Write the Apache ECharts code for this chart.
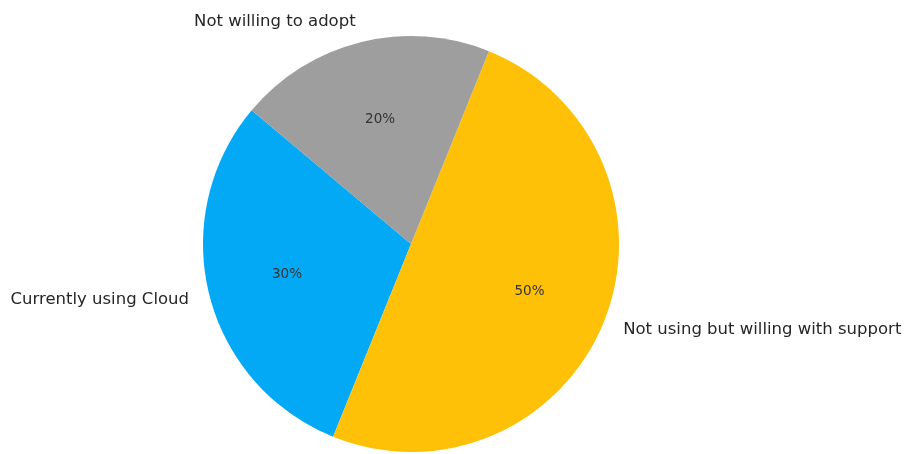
<!DOCTYPE html>
<html>
<head>
<meta charset="utf-8">
<script src="https://cdn.jsdelivr.net/npm/echarts@6/dist/echarts.min.js"></script>
<style>
html,body{margin:0;padding:0;background:#fff;}
#chart{width:904px;height:454px;}
</style>
</head>
<body>
<div id="chart"></div>
<script>
const categories = ['Currently using Cloud', 'Not using but willing with support', 'Not willing to adopt'];
const values = [30, 50, 20];
const colors = ['#03A9F4', '#FFC107', '#9E9E9E'];

const R = 208;
const center = [411, 244];
const font = 'DejaVu Sans, sans-serif';

const chart = echarts.init(document.getElementById('chart'), null, {renderer: 'canvas'});
chart.setOption({
  animation: false,
  backgroundColor: '#ffffff',
  series: [
    {
      type: 'pie',
      center: center,
      radius: [0, R],
      startAngle: 140,
      clockwise: false,
      avoidLabelOverlap: false,
      silent: true,
      data: categories.map((c, i) => ({name: c, value: values[i], itemStyle: {color: colors[i]}})),
      label: {
        show: true,
        position: 'outside',
        formatter: '{b}',
        color: '#262626',
        fontFamily: font,
        fontSize: 16.5,
        distanceToLabelLine: 0
      },
      labelLine: {show: false, length: R * 0.1, length2: 0},
      emphasis: {disabled: true}
    },
    {
      type: 'pie',
      center: center,
      radius: [0, R * 1.2],
      startAngle: 140,
      clockwise: false,
      avoidLabelOverlap: false,
      silent: true,
      z: 3,
      data: categories.map((c, i) => ({name: c, value: values[i], itemStyle: {color: 'rgba(0,0,0,0)'}})),
      label: {
        show: true,
        position: 'inside',
        formatter: p => values[p.dataIndex] + '%',
        color: '#333333',
        fontFamily: font,
        fontSize: 13.5
      },
      labelLine: {show: false},
      emphasis: {disabled: true}
    }
  ]
});
</script>
</body>
</html>
